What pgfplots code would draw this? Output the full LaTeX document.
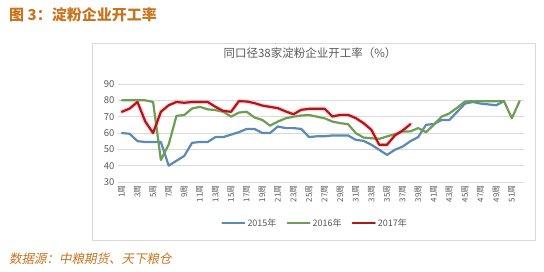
\documentclass[border=0pt]{standalone}
\usepackage{fontspec}
\setmainfont{Noto Sans CJK SC}
\newfontfamily\cjkit[FakeSlant=0.2]{Noto Sans CJK SC}
\usepackage{pgfplots}
\usepackage{pgfplotstable}
\pgfplotsset{compat=1.18}
\definecolor{c15}{HTML}{5B8AB4}
\definecolor{c16}{HTML}{6E9E55}
\definecolor{c17}{HTML}{B0161C}
\definecolor{hdr}{HTML}{C8731E}
\definecolor{txt}{HTML}{595959}
\definecolor{grd}{HTML}{D9D9D9}

\pgfplotstableread{
w v
1 60
2 59.5
3 55
4 54.5
5 54.5
6 54.5
7 40
8 43
9 46
10 54
11 54.5
12 54.5
13 57.5
14 57.5
15 59
16 60.5
17 62.5
18 62.5
19 60
20 60
21 64
22 63
23 63
24 62.5
25 57.5
26 58
27 58
28 58.5
29 58.5
30 58.5
31 55.8
32 55.2
33 52.8
34 49.7
35 46.6
36 49.7
37 51.7
38 55
39 57.5
40 65
41 65.5
42 68
43 68
44 73
45 78
46 79
47 78
48 77.5
49 77
50 79.5
}\dataA

\pgfplotstableread{
w v
1 80
2 80
3 80
4 80
5 79
6 43.5
7 53
8 70.5
9 71
10 75
11 76
12 74.5
13 74
14 73
15 70
16 72.5
17 73
18 69.5
19 68
20 64.5
21 67
22 69
23 70
24 70.7
25 71
26 70
27 69
28 67
29 66
30 65.4
31 59.9
32 57.2
33 56.8
34 56.4
35 57.9
36 59.3
37 60.9
38 61
39 63
40 60.5
41 65
42 70
43 72
44 75.5
45 79.3
46 79.5
47 79.5
48 79.5
49 79.5
50 79.5
51 69
52 79.5
}\dataB

\pgfplotstableread{
w v
1 73
2 75
3 79
4 67
5 60
6 73
7 77
8 79
9 78.5
10 79
11 79
12 79
13 76
14 73.5
15 73
16 79.5
17 79.3
18 78.3
19 76.8
20 76
21 75.2
22 73.2
23 71.5
24 74.2
25 74.8
26 74.8
27 74.8
28 70.1
29 71.1
30 71.1
31 69.1
32 66
33 61.9
34 52.8
35 52.8
36 58.5
37 61.5
38 65.4
}\dataC

\begin{document}
\begin{tikzpicture}[x=1pt,y=1pt]
\path[fill=white] (0,0) rectangle (544,271);
\node[anchor=west, font=\fontsize{15}{15}\selectfont\bfseries, text=hdr, inner sep=0pt] at (9,256) {图 3：淀粉企业开工率};
\draw[grd, line width=0.8pt] (92,31) rectangle (535,228);
\node[font=\fontsize{11.5}{12}\selectfont, text=txt] at (310,218) {同口径38家淀粉企业开工率（\%）};
\begin{axis}[
  at={(118pt,89pt)}, anchor=south west, scale only axis,
  width=405.5pt, height=98pt,
  xmin=0.5, xmax=52.5, ymin=30, ymax=90,
  axis line style={draw=none},
  tick style={draw=none},
  ymajorgrids, grid style={grd, line width=0.6pt},
  ytick={30,40,...,90},
  xtick={1,3,...,51},
  xticklabels={1周,3周,5周,7周,9周,11周,13周,15周,17周,19周,21周,23周,25周,27周,29周,31周,33周,35周,37周,39周,41周,43周,45周,47周,49周,51周},
  x tick label style={rotate=90, anchor=east, font=\fontsize{8}{8}\selectfont, text=txt},
  y tick label style={font=\fontsize{9.5}{10}\selectfont, text=txt},
  /pgf/number format/assume math mode=true,
  legend columns=3,
  legend style={at={(0.486,-0.418)}, anchor=center, draw=none, fill=none,
    font=\fontsize{9}{9}\selectfont, text=txt,
    /tikz/every even column/.append style={column sep=8pt}},
  legend image code/.code={\draw[#1] (0pt,0pt) -- (22pt,0pt);},
  every axis plot/.append style={line join=round, line cap=round},
]
\addplot[c15, line width=2.2pt] table[x=w,y=v] {\dataA};
\addlegendentry{2015年}
\addplot[c16, line width=2.2pt] table[x=w,y=v] {\dataB};
\addlegendentry{2016年}
\addplot[red!50, opacity=0.3, line width=4.5pt, forget plot] table[x=w,y=v] {\dataC};
\addplot[c17, line width=2.2pt] table[x=w,y=v] {\dataC};
\addlegendentry{2017年}
\end{axis}
\node[anchor=west, font=\cjkit\fontsize{12.5}{13}\selectfont, text=hdr, inner sep=0pt] at (9,12) {数据源：中粮期货、天下粮仓};
\end{tikzpicture}
\end{document}
